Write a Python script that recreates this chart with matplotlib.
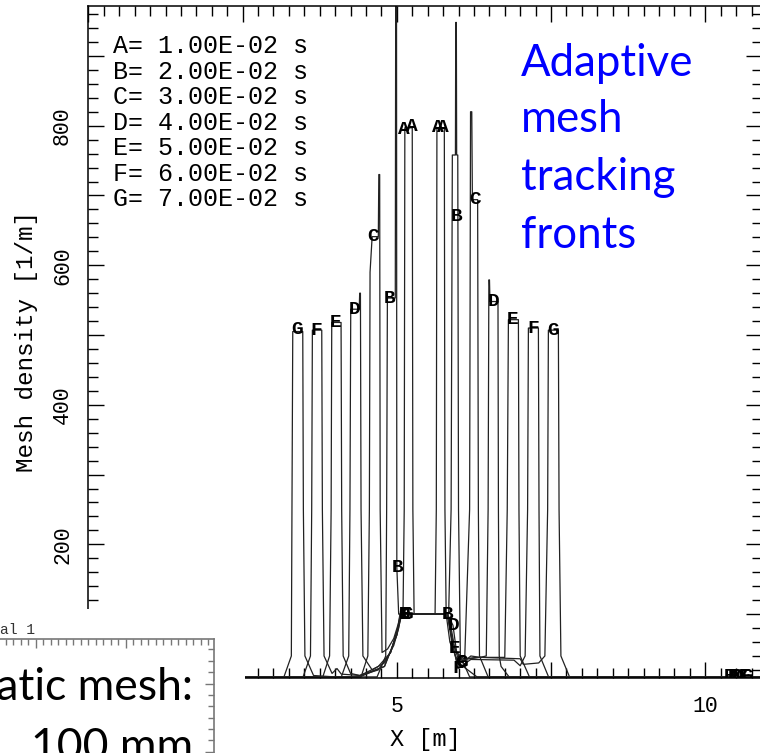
import matplotlib
matplotlib.use("Agg")
import numpy as np
import matplotlib.pyplot as plt
from matplotlib.ticker import MultipleLocator, FuncFormatter, FixedLocator
from matplotlib.patches import Rectangle

# curve letters and their times
letters = ["A", "B", "C", "D", "E", "F", "G"]
times = [1e-2, 2e-2, 3e-2, 4e-2, 5e-2, 6e-2, 7e-2]

# mesh density profiles, x [m] / density [1/m]
a_x = [0.0, 4.40, 4.80, 5.00, 5.05, 5.10, 5.12, 5.13, 5.25, 5.26, 5.28, 5.62, 5.64, 5.65, 5.77, 5.78, 5.80, 5.86, 6.00, 6.30, 10.92]
a_y = [10, 10, 25, 70, 100, 100, 250, 797, 797, 250, 100, 100, 250, 797, 797, 250, 100, 60, 30, 10, 10]

b_x = [0.0, 4.68, 4.82, 4.835, 4.847, 4.975, 4.982, 4.995, 5.00, 5.03, 5.06, 5.84, 5.88, 5.90, 5.95, 5.955, 5.965, 5.97, 5.988, 6.00, 6.03, 6.18, 10.92]
b_y = [10, 10, 40, 250, 553, 553, 1000, 1000, 167, 100, 100, 100, 250, 758, 758, 948, 948, 758, 758, 250, 40, 10, 10]

c_x = [0.0, 4.42, 4.53, 4.555, 4.566, 4.60, 4.70, 4.708, 4.722, 4.73, 4.76, 4.85, 4.95, 5.02, 5.06, 5.82, 5.90, 5.98, 6.10, 6.18, 6.195, 6.215, 6.225, 6.31, 6.322, 6.34, 6.48, 10.92]
c_y = [10, 10, 40, 250, 590, 641, 641, 730, 730, 250, 45, 50, 65, 85, 100, 100, 55, 30, 35, 250, 820, 820, 694, 694, 250, 40, 10, 10]

d_x = [0.0, 4.10, 4.22, 4.24, 4.253, 4.39, 4.398, 4.41, 4.42, 4.45, 4.60, 4.80, 4.95, 5.03, 5.07, 5.82, 5.91, 5.97, 6.10, 6.35, 6.45, 6.48, 6.492, 6.502, 6.51, 6.64, 6.647, 6.66, 6.69, 6.82, 10.92]
d_y = [10, 10, 40, 250, 537, 537, 560, 560, 250, 40, 20, 30, 55, 80, 100, 100, 84, 45, 35, 38, 40, 250, 579, 579, 548, 548, 250, 40, 25, 10, 10]

e_x = [0.0, 3.80, 3.91, 3.935, 3.945, 4.096, 4.106, 4.13, 4.25, 4.40, 4.70, 4.90, 5.00, 5.07, 5.82, 5.88, 5.94, 6.00, 6.30, 6.75, 6.79, 6.809, 6.971, 6.98, 7.00, 7.15, 10.92]
e_y = [10, 10, 40, 250, 518, 518, 250, 40, 15, 12, 20, 45, 75, 100, 100, 80, 51, 35, 38, 38, 250, 522, 522, 250, 40, 10, 10]

f_x = [0.0, 3.48, 3.60, 3.62, 3.631, 3.783, 3.793, 3.82, 3.95, 4.03, 4.10, 4.40, 4.80, 5.00, 5.08, 5.82, 5.90, 5.99, 6.20, 6.90, 7.00, 7.08, 7.12, 7.133, 7.295, 7.305, 7.32, 7.46, 10.92]
f_y = [10, 10, 40, 250, 507, 507, 250, 40, 15, 22, 14, 12, 25, 70, 100, 100, 60, 22, 35, 34, 26, 40, 250, 510, 510, 250, 40, 10, 10]

g_x = [0.0, 3.17, 3.29, 3.30, 3.313, 3.475, 3.485, 3.51, 3.65, 4.00, 4.36, 4.70, 4.90, 5.02, 5.08, 5.82, 5.92, 6.06, 6.20, 6.35, 7.00, 7.05, 7.30, 7.40, 7.445, 7.457, 7.619, 7.63, 7.66, 7.80, 10.92]
g_y = [10, 10, 40, 250, 505, 505, 250, 40, 12, 10, 10, 25, 45, 81, 100, 100, 55, 30, 40, 38, 36, 28, 30, 40, 250, 507, 507, 250, 40, 10, 10]

# where the curve letters are written
a_lx = [5.12, 5.24, 5.66, 5.74]
a_ly = [794, 799, 797, 797]
b_lx = [4.89, 5.01, 5.82, 5.975, 10.40]
b_ly = [553, 167, 100, 670, 10]
c_lx = [4.61, 5.12, 6.05, 6.27, 10.58]
c_ly = [641, 100, 30, 694, 10]
d_lx = [4.32, 5.12, 5.92, 6.57, 10.52]
d_ly = [537, 100, 84, 548, 10]
e_lx = [4.00, 5.12, 5.94, 6.88, 10.46]
e_ly = [518, 100, 51, 522, 10]
f_lx = [3.69, 5.14, 5.99, 7.21, 10.64]
f_ly = [507, 100, 22, 510, 10]
g_lx = [3.38, 5.16, 6.06, 7.53, 10.68]
g_ly = [508, 100, 30, 507, 10]

blue_lines = ["Adaptive", "mesh", "tracking", "fronts"]

W, H = 760, 753
MONO = "Liberation Mono"


def fx(px):
    return px / W


def fy(py):
    return 1 - py / H


fig = plt.figure(figsize=(W / 100, H / 100), dpi=100)
fig.patch.set_facecolor("white")

ax = fig.add_axes([fx(88.4), fy(678.3), (762 - 88.4) / W, (678.3 - 5.7) / H])

curves = [(a_x, a_y, a_lx, a_ly), (b_x, b_y, b_lx, b_ly), (c_x, c_y, c_lx, c_ly),
          (d_x, d_y, d_lx, d_ly), (e_x, e_y, e_lx, e_ly), (f_x, f_y, f_lx, f_ly),
          (g_x, g_y, g_lx, g_ly)]
for L, (xs, ys, lx, ly) in zip(letters, curves):
    ax.plot(xs, ys, color="#222222", lw=0.9)
    for x, y in zip(lx, ly):
        ax.text(x, y, L, fontsize=14, family=MONO, weight="bold",
                ha="center", va="center", clip_on=True)

ax.set_xlim(0, 10.92)
ax.set_ylim(8, 972)

ax.xaxis.set_major_locator(MultipleLocator(2.5))
ax.xaxis.set_minor_locator(MultipleLocator(0.25))
ax.yaxis.set_major_locator(MultipleLocator(100))
ax.yaxis.set_minor_locator(MultipleLocator(20))
ax.xaxis.set_major_formatter(FuncFormatter(lambda v, p: f"{v:g}" if v > 0 and v % 5 == 0 else ""))
ax.yaxis.set_major_formatter(FuncFormatter(lambda v, p: f"{v:g}" if v % 200 == 0 else ""))

ax.tick_params(which="both", direction="in", top=True, right=True, width=1.0, color="black")
ax.tick_params(which="major", length=11.5)
ax.tick_params(which="minor", length=7.2)
ax.tick_params(axis="x", pad=13, labelsize=15.5)
ax.tick_params(axis="y", pad=11, labelsize=15.5, labelrotation=90)
for lab in ax.get_xticklabels() + ax.get_yticklabels():
    lab.set_family(MONO)
for lab in ax.get_yticklabels():
    lab.set_va("center")
for s in ax.spines.values():
    s.set_linewidth(1.1)

ax.set_xlabel("X [m]", family=MONO, fontsize=17, labelpad=8)
ax.set_ylabel("Mesh density [1/m]", family=MONO, fontsize=17.5, labelpad=10)

# legend block with the times
legend_y = [46, 71.7, 97, 123, 148, 174, 199.5]
for L, t, yy in zip(letters, times, legend_y):
    fig.text(fx(113), fy(yy), f"{L}= {t:.2E} s", family=MONO, fontsize=18,
             ha="left", va="center")

# blue annotation
blue_base = [76, 132.5, 190, 248]
for s, yy in zip(blue_lines, blue_base):
    fig.text(fx(521), fy(yy), s, family="Lato", fontsize=31.5, color="#0000ff",
             ha="left", va="baseline")

# overlapping piece of the static mesh plot in the lower left
fig.patches.append(Rectangle((0, 0), fx(245), (753 - 609) / H, transform=fig.transFigure,
                             facecolor="white", edgecolor="none", zorder=4))

ax2 = fig.add_axes([-0.3, -0.2, 0.3 + fx(214.3), 0.2 + (753 - 639) / H], zorder=5)
ax2.set_xlim(-0.3 * W, 214.3)
ax2.set_ylim(-0.2 * H, 753 - 639)
ax2.patch.set_alpha(0)
ax2.spines["left"].set_visible(False)
ax2.spines["bottom"].set_visible(False)
for s in ["top", "right"]:
    ax2.spines[s].set_color("#777777")
    ax2.spines[s].set_linewidth(1.2)
ax2.xaxis.set_major_locator(FixedLocator([36, 126]))
ax2.xaxis.set_minor_locator(FixedLocator(np.arange(-1.5, 214, 7.5)))
ax2.yaxis.set_major_locator(FixedLocator([69.3, 1.3]))
ax2.yaxis.set_minor_locator(FixedLocator([103.7, 92.3, 81, 58, 46.7, 35.3, 24, 12.7]))
ax2.tick_params(which="both", direction="in", top=True, right=True, bottom=False, left=False,
                labelbottom=False, labelleft=False, color="#777777", width=1.0)
ax2.tick_params(which="major", length=6.5)
ax2.tick_params(which="minor", length=4)

fig.text(0, fy(630), "al 1", family=MONO, fontsize=10.5, color="#333333",
         ha="left", va="center", zorder=6)
fig.text(fx(193), fy(700), "Static mesh:", family="Lato", fontsize=32, color="black",
         ha="right", va="baseline", zorder=6)
fig.text(fx(193), fy(760), "100 mm", family="Lato", fontsize=32, color="black",
         ha="right", va="baseline", zorder=6)

fig.savefig("out.png", dpi=100, facecolor="white")
